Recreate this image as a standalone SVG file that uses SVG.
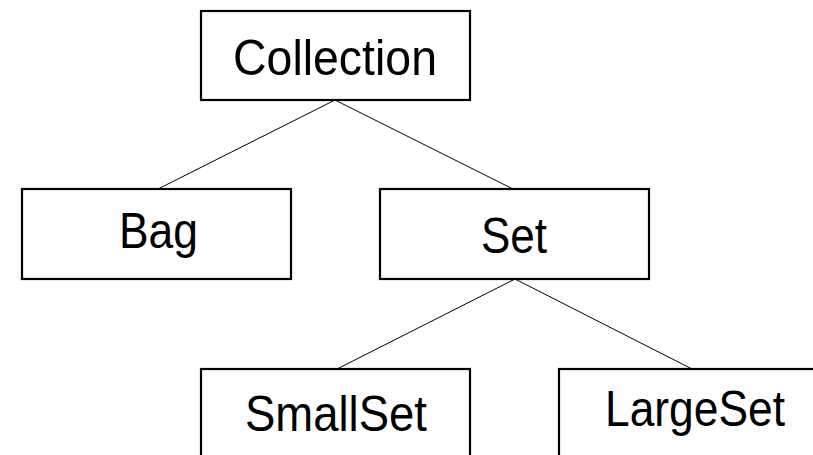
<svg xmlns="http://www.w3.org/2000/svg" width="813" height="455" viewBox="0 0 813 455">
<style>
.box{fill:#fff;stroke:#000;stroke-width:2.2}
.lbl{font-family:"Liberation Sans",Arial,sans-serif;font-size:50px;fill:#000}
.edge{stroke:#000;stroke-width:1;fill:none}
</style>
<rect width="813" height="455" fill="#fff"/>
<g id="connectors">
<line class="edge" x1="335" y1="100" x2="158" y2="189"/>
<line class="edge" x1="335" y1="100" x2="513" y2="189"/>
<line class="edge" x1="515" y1="279" x2="337" y2="369"/>
<line class="edge" x1="515" y1="279" x2="692" y2="369"/>
</g>
<g id="collection">
<rect class="box" x="201" y="11" width="269" height="89"/>
<text class="lbl" x="233" y="75" textLength="204" lengthAdjust="spacingAndGlyphs">Collection</text>
</g>
<g id="bag">
<rect class="box" x="22" y="189" width="269" height="90"/>
<text class="lbl" x="119" y="248" textLength="79" lengthAdjust="spacingAndGlyphs">Bag</text>
</g>
<g id="set">
<rect class="box" x="380" y="189" width="269" height="90"/>
<text class="lbl" x="481" y="253" textLength="66" lengthAdjust="spacingAndGlyphs">Set</text>
</g>
<g id="smallset">
<rect class="box" x="201" y="369" width="269" height="100"/>
<text class="lbl" x="245" y="431" textLength="182" lengthAdjust="spacingAndGlyphs">SmallSet</text>
</g>
<g id="largeset">
<rect class="box" x="559" y="369" width="280" height="100"/>
<text class="lbl" x="605" y="426" textLength="180" lengthAdjust="spacingAndGlyphs">LargeSet</text>
</g>
</svg>
